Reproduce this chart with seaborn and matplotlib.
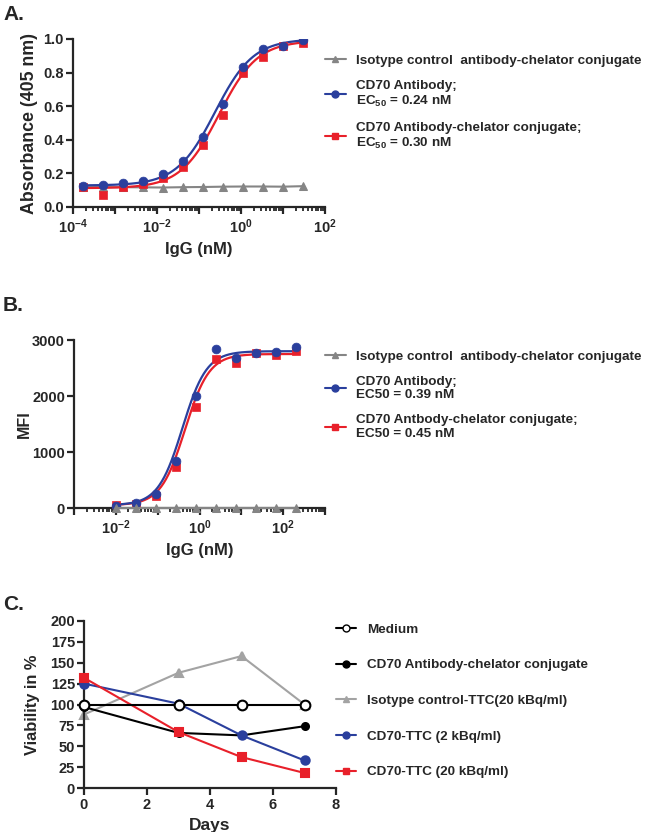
import numpy as np
import pandas as pd
import matplotlib
matplotlib.use("Agg")
import matplotlib.pyplot as plt
import seaborn as sns
from matplotlib.lines import Line2D
from matplotlib.ticker import LogLocator, FuncFormatter, NullFormatter, MultipleLocator

# ------------------------------------------------------------
# Data
# ------------------------------------------------------------
# Panel A: ELISA, 3-fold dilution from 30 nM
conc_a = [30 / 3 ** k for k in range(12)][::-1]
abs_blue = [0.127, 0.131, 0.141, 0.157, 0.198, 0.274, 0.415, 0.613, 0.835, 0.938, 0.960, 0.992]
abs_red = [0.119, 0.069, 0.122, 0.135, 0.170, 0.240, 0.367, 0.550, 0.800, 0.890, 0.956, 0.976]
abs_gray = [0.118, 0.119, 0.118, 0.117, 0.116, 0.118, 0.119, 0.121, 0.122, 0.122, 0.121, 0.124]
# 4PL fit parameters (bottom, top, EC50, hill)
fit_a_blue = [0.128, 1.00, 0.24, 0.95]
fit_a_red = [0.112, 0.99, 0.30, 0.95]

# Panel B: flow cytometry, 3-fold dilution from 200 nM
conc_b = [200 / 3 ** k for k in range(10)][::-1]
mfi_blue = [42, 95, 250, 835, 1998, 2838, 2683, 2773, 2785, 2880]
mfi_red = [60, 78, 209, 733, 1807, 2653, 2588, 2761, 2731, 2803]
mfi_gray = [0, 0, 0, 0, 0, 0, 0, 0, 0, 0]
fit_b_blue = [50, 2800, 0.39, 1.5]
fit_b_red = [50, 2750, 0.45, 1.5]

# Panel C: viability
days = [0, 3, 5, 7]
via_medium = [100, 100, 100, 100]
via_conj = [97, 66, 63, 74]
via_iso = [88, 138, 158, 100]
via_ttc2 = [125, 101, 63, 33]
via_ttc20 = [132, 67, 37, 18]

BLUE = "#2a3f9d"
RED = "#e8202a"
GRAY = "#858585"
LGRAY = "#a3a3a3"

sns.set_style("ticks")
plt.rcParams["font.family"] = ["Liberation Sans", "DejaVu Sans"]
plt.rcParams["font.weight"] = "bold"
plt.rcParams["axes.labelweight"] = "bold"
plt.rcParams["mathtext.fontset"] = "custom"
plt.rcParams["mathtext.rm"] = "Liberation Sans:bold"
plt.rcParams["mathtext.bf"] = "Liberation Sans:bold"
plt.rcParams["mathtext.it"] = "Liberation Sans:bold"
plt.rcParams["mathtext.default"] = "bf"
plt.rcParams["axes.linewidth"] = 1.6
plt.rcParams["xtick.major.width"] = 1.6
plt.rcParams["ytick.major.width"] = 1.6
plt.rcParams["xtick.minor.width"] = 1.3
plt.rcParams["xtick.major.size"] = 5
plt.rcParams["ytick.major.size"] = 5
plt.rcParams["xtick.minor.size"] = 3
plt.rcParams["xtick.direction"] = "out"
plt.rcParams["ytick.direction"] = "out"
plt.rcParams["xtick.major.pad"] = 2.5
plt.rcParams["ytick.major.pad"] = 1.5

fig = plt.figure(figsize=(6.49, 8.32), dpi=100)
W, H = 649, 832


def axes_px(left, top, right, bottom):
    return fig.add_axes([left / W, 1 - bottom / H, (right - left) / W, (bottom - top) / H])


def four_pl(x, p):
    bottom, top, ec50, hill = p
    return bottom + (top - bottom) / (1 + (ec50 / x) ** hill)


def log_labels(every):
    def fmt(v, pos):
        e = int(round(np.log10(v)))
        if e % every != 0:
            return ""
        return r"$10^{%d}$" % e
    return FuncFormatter(fmt)


def style_log_x(ax, lo, hi):
    ax.set_xscale("log")
    ax.set_xlim(lo, hi)
    ax.xaxis.set_major_locator(LogLocator(base=10, numticks=20))
    ax.xaxis.set_minor_locator(LogLocator(base=10, subs=np.arange(2, 10), numticks=20))
    ax.xaxis.set_minor_formatter(NullFormatter())
    ax.xaxis.set_major_formatter(log_labels(2))


def legend_handle(color, marker, mfc=None, ms=5):
    return Line2D([], [], color=color, marker=marker, lw=1.5, ms=ms,
                  markerfacecolor=mfc if mfc else color, markeredgecolor=color)


TICK_FS = 10.5
LEG_FS = 9.7

# ------------------------------------------------------------
# A. Absorbance
# ------------------------------------------------------------
axA = axes_px(73, 39, 325, 207)
dfa = pd.DataFrame({"conc": conc_a, "blue": abs_blue, "red": abs_red, "gray": abs_gray})
xfit = np.logspace(np.log10(conc_a[0]), np.log10(conc_a[-1]), 300)
sns.lineplot(x=dfa["conc"], y=dfa["gray"], ax=axA, color=GRAY, lw=1.5,
             marker="^", ms=6, markeredgecolor=GRAY)
sns.lineplot(x=xfit, y=four_pl(xfit, fit_a_red), ax=axA, color=RED, lw=1.6)
sns.lineplot(x=xfit, y=four_pl(xfit, fit_a_blue), ax=axA, color=BLUE, lw=1.6)
sns.scatterplot(x=dfa["conc"], y=dfa["red"], ax=axA, color=RED, marker="s", s=38, edgecolor=RED, zorder=3)
sns.scatterplot(x=dfa["conc"], y=dfa["blue"], ax=axA, color=BLUE, marker="o", s=40, edgecolor=BLUE, zorder=4)
style_log_x(axA, 1e-4, 1e2)
axA.set_ylim(0, 1.0)
axA.yaxis.set_major_locator(MultipleLocator(0.2))
axA.yaxis.set_major_formatter(FuncFormatter(lambda v, p: f"{v:.1f}"))
axA.set_xlabel("IgG (nM)", fontsize=12)
axA.set_ylabel("Absorbance (405 nm)", fontsize=12.8)
axA.yaxis.set_label_coords(-0.14, 0.5)
axA.legend(handles=[legend_handle(GRAY, "^"), legend_handle(BLUE, "o"), legend_handle(RED, "s")],
           labels=["Isotype control  antibody-chelator conjugate",
                   "CD70 Antibody;\nEC$_{50}$ = 0.24 nM",
                   "CD70 Antibody-chelator conjugate;\nEC$_{50}$ = 0.30 nM"],
           loc="upper left", bbox_to_anchor=(0.98, 0.94), frameon=False, fontsize=LEG_FS,
           handlelength=1.5, handletextpad=0.8, labelspacing=0.95, borderaxespad=0)

# ------------------------------------------------------------
# B. MFI
# ------------------------------------------------------------
axB = axes_px(74, 340, 325, 508)
dfb = pd.DataFrame({"conc": conc_b, "blue": mfi_blue, "red": mfi_red, "gray": mfi_gray})
xfit = np.logspace(np.log10(conc_b[0]), np.log10(conc_b[-1]), 300)
sns.lineplot(x=dfb["conc"], y=dfb["gray"], ax=axB, color=GRAY, lw=1.5,
             marker="^", ms=6, markeredgecolor=GRAY, clip_on=False, zorder=5)
sns.lineplot(x=xfit, y=four_pl(xfit, fit_b_red), ax=axB, color=RED, lw=1.6)
sns.lineplot(x=xfit, y=four_pl(xfit, fit_b_blue), ax=axB, color=BLUE, lw=1.6)
sns.scatterplot(x=dfb["conc"], y=dfb["red"], ax=axB, color=RED, marker="s", s=38, edgecolor=RED, zorder=3)
sns.scatterplot(x=dfb["conc"], y=dfb["blue"], ax=axB, color=BLUE, marker="o", s=40, edgecolor=BLUE, zorder=4)
style_log_x(axB, 1e-3, 1e3)
axB.set_ylim(0, 3000)
axB.yaxis.set_major_locator(MultipleLocator(1000))
axB.set_xlabel("IgG (nM)", fontsize=12)
axB.set_ylabel("MFI", fontsize=11.5)
axB.yaxis.set_label_coords(-0.167, 0.5)
axB.legend(handles=[legend_handle(GRAY, "^"), legend_handle(BLUE, "o"), legend_handle(RED, "s")],
           labels=["Isotype control  antibody-chelator conjugate",
                   "CD70 Antibody;\nEC50 = 0.39 nM",
                   "CD70 Antbody-chelator conjugate;\nEC50 = 0.45 nM"],
           loc="upper left", bbox_to_anchor=(0.98, 0.97), frameon=False, fontsize=LEG_FS,
           handlelength=1.5, handletextpad=0.8, labelspacing=0.95, borderaxespad=0)

# ------------------------------------------------------------
# C. Viability
# ------------------------------------------------------------
axC = axes_px(84, 621, 336, 788)
series_c = [
    ("Medium", via_medium, "black", "o", "white", 7),
    ("CD70 Antibody-chelator conjugate", via_conj, "black", "o", "black", 5),
    ("Isotype control-TTC(20 kBq/ml)", via_iso, LGRAY, "^", LGRAY, 6),
    ("CD70-TTC (2 kBq/ml)", via_ttc2, BLUE, "o", BLUE, 6),
    ("CD70-TTC (20 kBq/ml)", via_ttc20, RED, "s", RED, 6),
]
zorders = [6, 3, 2, 4, 5]
for (name, vals, col, mk, mfc, ms), z in zip(series_c, zorders):
    sns.lineplot(x=days, y=vals, ax=axC, color=col, lw=1.5, marker=mk, ms=ms,
                 markerfacecolor=mfc, markeredgecolor=col, markeredgewidth=1.5,
                 clip_on=False, zorder=z)
axC.set_xlim(0, 8)
axC.set_ylim(0, 200)
axC.xaxis.set_major_locator(MultipleLocator(2))
axC.yaxis.set_major_locator(MultipleLocator(25))
axC.set_xlabel("Days", fontsize=12.5)
axC.set_ylabel("Viability in %", fontsize=11.8)
axC.yaxis.set_label_coords(-0.175, 0.5)
axC.legend(handles=[legend_handle(c, m, mfc, 5) for (_, _, c, m, mfc, _) in series_c],
           labels=[s[0] for s in series_c],
           loc="upper left", bbox_to_anchor=(0.978, 1.018), frameon=False, fontsize=LEG_FS,
           handlelength=1.5, handletextpad=0.8, labelspacing=1.72, borderaxespad=0)

for ax in (axA, axB, axC):
    sns.despine(ax=ax)
    ax.tick_params(labelsize=TICK_FS)
    for lab in ax.get_xticklabels() + ax.get_yticklabels():
        lab.set_fontweight("bold")

fig.text(3 / W, 1 - 5 / H, "A.", fontsize=15, fontweight="bold", va="top")
fig.text(3 / W, 1 - 296 / H, "B.", fontsize=15, fontweight="bold", va="top")
fig.text(3 / W, 1 - 595 / H, "C.", fontsize=15, fontweight="bold", va="top")

fig.savefig("out.png", dpi=100)
